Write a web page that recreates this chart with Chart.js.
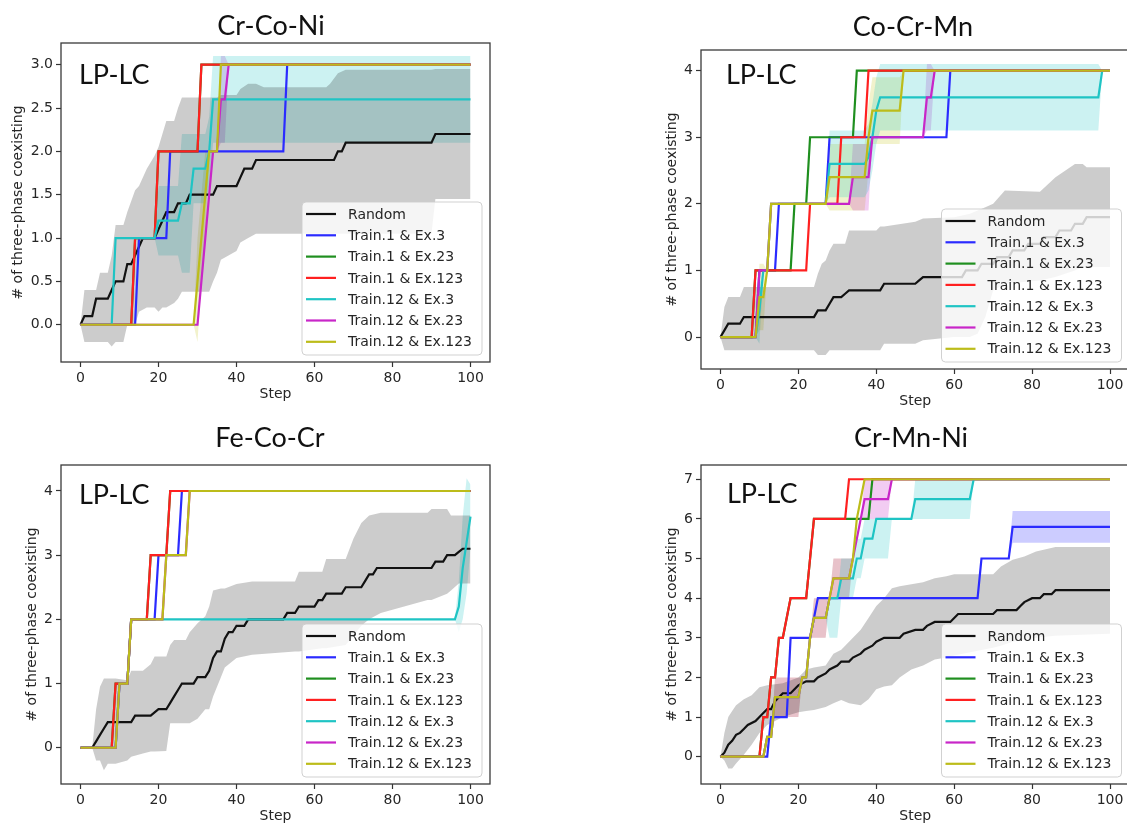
<!DOCTYPE html>
<html>
<head>
<meta charset="utf-8">
<script src="https://cdn.jsdelivr.net/npm/chart.js@4.4.1/dist/chart.umd.min.js"></script>
<style>
html, body { margin: 0; padding: 0; background: #fff; overflow: hidden; width: 1127px; height: 824px; }
canvas { position: absolute; }
</style>
</head>
<body>
<canvas id="p1" width="560" height="420" style="left:0;top:0"></canvas>
<canvas id="p2" width="600" height="420" style="left:560px;top:0"></canvas>
<canvas id="p3" width="560" height="430" style="left:0;top:410px"></canvas>
<canvas id="p4" width="600" height="430" style="left:560px;top:410px"></canvas>
<script>
'use strict';

const SERIES = ['Random', 'Train.1 & Ex.3', 'Train.1 & Ex.23', 'Train.1 & Ex.123',
                'Train.12 & Ex.3', 'Train.12 & Ex.23', 'Train.12 & Ex.123'];
const LINE_COLORS = ['#111111', '#2b2bff', '#1f8f1f', '#ff2020', '#1fc4c4', '#c826c8', '#bcbc1a'];
const BAND_COLORS = ['rgba(0,0,0,0.2)', 'rgba(0,0,255,0.2)', 'rgba(0,128,0,0.2)', 'rgba(255,0,0,0.2)',
                     'rgba(0,191,191,0.2)', 'rgba(191,0,191,0.2)', 'rgba(191,191,0,0.2)'];

const STEP_TICKS = [0, 20, 40, 60, 80, 100];
const TICKS_CRCONI = [0, 0.5, 1, 1.5, 2, 2.5, 3];
const TICKS_COCRMN = [0, 1, 2, 3, 4];
const TICKS_FECOCR = [0, 1, 2, 3, 4];
const TICKS_CRMNNI = [0, 1, 2, 3, 4, 5, 6, 7];

// mean curves: [step, count]
// bands: [step, low, high]

/* Cr-Co-Ni */
const crconi_random = [[0,0],[1,0.1],[3,0.1],[4,0.3],[7,0.3],[8,0.4],[9,0.5],[11,0.5],[12,0.7],[13,0.7],[14,0.8],[15,0.9],[16,1.0],[19,1.0],[20,1.1],[21,1.2],[22,1.3],[24,1.3],[25,1.4],[27,1.4],[28,1.5],[34,1.5],[35,1.6],[40,1.6],[41,1.7],[42,1.8],[44,1.8],[45,1.9],[65,1.9],[66,2.0],[67,2.0],[68,2.1],[90,2.1],[91,2.2],[100,2.2]];
const crconi_random_band = [[0,0,0],[1,-0.2,0.4],[4,-0.2,0.4],[5,-0.2,0.6],[7,-0.2,0.6],[8,-0.25,0.8],[9,-0.2,1.15],[11,-0.2,1.15],[12,0.0,1.3],[14,0.0,1.55],[15,0.15,1.6],[17,0.2,1.8],[19,0.2,1.95],[20,0.15,2.05],[21,0.2,2.2],[22,0.2,2.35],[24,0.25,2.35],[25,0.3,2.5],[26,0.38,2.62],[33,0.38,2.62],[34,0.5,2.62],[35,0.6,2.62],[36,0.75,2.65],[40,0.85,2.65],[41,0.95,2.72],[43,1.0,2.78],[45,1.05,2.78],[47,1.05,2.74],[63,1.05,2.74],[64,1.05,2.78],[66,1.05,2.9],[68,1.05,2.94],[90,1.05,2.94],[91,1.45,2.95],[100,1.45,2.95]];
const crconi_t1x3 = [[0,0],[14,0],[15,1],[22,1],[23,2],[52,2],[53,3],[100,3]];
const crconi_t1x23 = [[0,0],[13,0],[14,1],[19,1],[20,2],[30,2],[31,3],[100,3]];
const crconi_t1x123 = [[0,0],[13,0],[14,1],[19,1],[20,2],[30,2],[31,3],[100,3]];
const crconi_t12x3 = [[0,0],[8,0],[9,1],[19,1],[20,1.2],[25,1.2],[26,1.4],[28,1.4],[29,1.8],[32,1.8],[33,2.0],[34,2.6],[100,2.6]];
const crconi_t12x3_band = [[0,0,0],[8,0,0],[9,1,1],[19,1,1],[20,0.8,1.6],[25,0.8,1.6],[26,0.6,2.2],[28,0.6,2.2],[29,1.4,2.2],[32,1.4,2.2],[33,1.6,2.4],[34,2.1,3.1],[100,2.1,3.1]];
const crconi_t12x23 = [[0,0],[30,0],[31,0.5],[32,1.0],[33,1.5],[34,2.0],[35,2.0],[36,2.6],[37,2.6],[38,3.0],[100,3.0]];
const crconi_t12x23_band = [[34,2,2],[35,2,2],[36,2.1,3.1],[37,2.1,3.1],[38,3,3]];
const crconi_t12x123 = [[0,0],[29,0],[30,0.5],[31,1.0],[32,1.5],[33,2.0],[35,2.0],[36,3.0],[100,3.0]];
const crconi_t12x123_band = [[29,0,0],[30,-0.2,1.0],[31,0.5,1.5],[32,1.0,2.0],[33,2,2]];

/* Co-Cr-Mn */
const cocrmn_random = [[0,0],[1,0.1],[2,0.2],[5,0.2],[6,0.3],[24,0.3],[25,0.4],[27,0.4],[28,0.5],[29,0.6],[31,0.6],[32,0.65],[33,0.7],[41,0.7],[42,0.8],[50,0.8],[51,0.85],[52,0.9],[62,0.9],[63,1.0],[66,1.0],[67,1.1],[70,1.1],[71,1.2],[74,1.2],[75,1.3],[78,1.3],[79,1.4],[82,1.4],[83,1.5],[86,1.5],[87,1.6],[90,1.6],[91,1.7],[93,1.7],[94,1.8],[100,1.8]];
const cocrmn_random_band = [[0,0,0],[1,-0.2,0.45],[2,-0.2,0.6],[5,-0.2,0.6],[6,-0.2,0.75],[24,-0.2,0.75],[25,-0.27,0.95],[26,-0.27,1.1],[27,-0.27,1.15],[28,-0.2,1.3],[29,-0.2,1.4],[32,-0.2,1.4],[33,-0.2,1.6],[40,-0.2,1.6],[41,-0.2,1.66],[42,-0.1,1.66],[50,-0.1,1.73],[52,-0.05,1.78],[60,0,1.8],[64,0,1.85],[66,0.05,1.9],[68,0.3,1.95],[70,0.7,2.0],[73,0.8,2.2],[82,0.85,2.18],[86,0.9,2.4],[91,1.0,2.6],[93,1.05,2.6],[94,1.05,2.55],[100,1.05,2.55]];
const cocrmn_t1x3 = [[0,0],[9,0],[10,1],[14,1],[15,2],[27,2],[28,3],[58,3],[59,4],[100,4]];
const cocrmn_t1x23 = [[0,0],[8,0],[9,1],[18,1],[19,2],[22,2],[23,3],[34,3],[35,4],[100,4]];
const cocrmn_t1x123 = [[0,0],[8,0],[9,1],[22,1],[23,2],[30,2],[31,3],[37,3],[38,4],[100,4]];
const cocrmn_t12x3 = [[0,0],[9,0],[10,0.4],[11,1],[12,1],[13,2],[27,2],[28,2.6],[37,2.6],[38,2.7],[39,3.0],[40,3.4],[41,3.6],[97,3.6],[98,4.0],[100,4.0]];
const cocrmn_t12x3_band = [[9,0,0],[10,-0.1,0.8],[11,1,1],[27,2,2],[28,2.1,3.1],[37,2.1,3.1],[38,2.2,3.2],[39,2.5,3.5],[40,2.9,3.9],[41,3.1,4.1],[97,3.1,4.1],[98,4,4]];
const cocrmn_t12x23 = [[0,0],[9,0],[10,1],[12,1],[13,2],[33,2],[34,2.4],[38,2.4],[39,3.0],[52,3.0],[53,3.6],[54,3.6],[55,4.0],[100,4.0]];
const cocrmn_t12x23_band = [[33,2,2],[34,1.9,2.9],[38,1.9,2.9],[39,3,3],[52,3,3],[53,3.1,4.1],[54,3.1,4.1],[55,4,4]];
const cocrmn_t12x123 = [[0,0],[9,0],[10,0.6],[11,0.6],[12,1.0],[13,2.0],[27,2.0],[28,2.4],[37,2.4],[38,3.0],[39,3.4],[46,3.4],[47,4.0],[100,4.0]];
const cocrmn_t12x123_band = [[9,0,0],[10,0.1,1.1],[11,0.1,1.1],[12,1,1],[27,2,2],[28,1.9,2.9],[37,1.9,2.9],[38,2.5,3.5],[39,2.9,3.9],[46,2.9,3.9],[47,4,4]];

/* Fe-Co-Cr */
const fecocr_random = [[0,0],[3,0],[4,0.1],[5,0.2],[6,0.3],[7,0.4],[13,0.4],[14,0.5],[18,0.5],[19,0.55],[20,0.6],[22,0.6],[23,0.7],[24,0.8],[25,0.9],[26,1.0],[29,1.0],[30,1.1],[32,1.1],[33,1.2],[34,1.4],[35,1.5],[36,1.5],[37,1.7],[38,1.8],[39,1.8],[40,1.9],[42,1.9],[43,2.0],[52,2.0],[53,2.1],[55,2.1],[56,2.2],[60,2.2],[61,2.3],[62,2.3],[63,2.4],[67,2.4],[68,2.5],[72,2.5],[73,2.6],[74,2.7],[75,2.7],[76,2.8],[90,2.8],[91,2.9],[93,2.9],[94,3.0],[96,3.0],[97,3.05],[98,3.1],[100,3.1]];
const fecocr_random_band = [[0,0,0],[3,0,0],[4,-0.2,0.6],[5,-0.2,0.95],[6,-0.35,1.08],[7,-0.25,1.08],[9,-0.25,1.08],[12,-0.2,1.05],[13,-0.14,1.2],[16,-0.09,1.2],[18,-0.06,1.3],[19,-0.06,1.42],[22,-0.05,1.42],[23,0.38,1.6],[24,0.38,1.68],[27,0.38,1.68],[28,0.38,1.8],[30,0.45,1.94],[32,0.6,2.05],[33,0.6,2.2],[34,0.8,2.45],[36,1.1,2.48],[37,1.25,2.48],[40,1.4,2.55],[44,1.45,2.59],[55,1.5,2.59],[56,1.5,2.74],[62,1.55,2.74],[63,1.55,2.94],[68,1.6,2.94],[70,1.75,3.26],[72,1.9,3.5],[74,2.0,3.62],[77,2.1,3.66],[89,2.3,3.66],[90,2.3,3.72],[94,2.4,3.72],[95,2.45,3.62],[97,2.56,3.62],[100,2.56,3.62]];
const fecocr_t1x3 = [[0,0],[9,0],[10,1],[12,1],[13,2],[19,2],[20,3],[25,3],[26,4],[100,4]];
const fecocr_t1x23 = [[0,0],[8,0],[9,1],[12,1],[13,2],[17,2],[18,3],[22,3],[23,4],[100,4]];
const fecocr_t1x123 = [[0,0],[8,0],[9,1],[12,1],[13,2],[17,2],[18,3],[22,3],[23,4],[100,4]];
const fecocr_t12x3 = [[0,0],[9,0],[10,1],[12,1],[13,2],[96,2],[97,2.2],[98,2.8],[99,3.2],[100,3.6]];
const fecocr_t12x3_band = [[96,2,2],[97,1.8,2.6],[98,2.0,3.6],[99,2.4,4.2],[100,3.1,4.1]];
const fecocr_t12x23 = [[0,0],[9,0],[10,1],[12,1],[13,2],[21,2],[22,3],[27,3],[28,4],[100,4]];
const fecocr_t12x123 = [[0,0],[9,0],[10,1],[12,1],[13,2],[21,2],[22,3],[27,3],[28,4],[100,4]];

/* Cr-Mn-Ni */
const crmnni_random = [[0,0],[1,0.1],[2,0.3],[3,0.4],[4,0.55],[5,0.6],[6,0.7],[7,0.8],[9,0.9],[10,1.0],[11,1.1],[12,1.2],[13,1.2],[14,1.4],[15,1.5],[16,1.6],[18,1.6],[19,1.7],[20,1.8],[22,1.9],[24,1.9],[25,2.0],[27,2.1],[28,2.2],[30,2.3],[31,2.4],[33,2.4],[34,2.5],[36,2.6],[37,2.7],[39,2.8],[40,2.9],[42,3.0],[46,3.0],[47,3.1],[50,3.2],[52,3.2],[53,3.3],[55,3.4],[59,3.4],[61,3.6],[70,3.6],[71,3.7],[76,3.7],[77,3.8],[78,3.9],[80,4.0],[82,4.0],[83,4.1],[85,4.1],[86,4.2],[100,4.2]];
const crmnni_random_band = [[0,0,0],[1,-0.1,0.6],[2,-0.3,1.0],[3,-0.3,1.15],[4,-0.17,1.3],[6,0.05,1.45],[8,0.3,1.55],[10,0.6,1.75],[12,0.8,1.8],[16,1.0,1.85],[20,1.12,2.0],[22,1.15,2.2],[24,1.18,2.25],[27,1.25,2.3],[29,1.35,2.6],[31,1.43,2.7],[33,1.35,2.9],[36,1.3,3.2],[38,1.45,3.5],[40,1.7,3.8],[42,1.77,4.0],[44,1.8,4.25],[46,2.0,4.3],[49,2.2,4.35],[52,2.3,4.4],[55,2.45,4.5],[58,2.5,4.55],[60,2.55,4.6],[70,2.75,4.6],[72,2.8,4.8],[75,2.9,4.97],[78,2.95,5.05],[81,3.0,5.18],[86,3.05,5.29],[100,3.1,5.29]];
const crmnni_t1x3 = [[0,0],[12,0],[13,1],[17,1],[18,3],[23,3],[24,3.5],[25,4],[66,4],[67,5],[74,5],[75,5.8],[100,5.8]];
const crmnni_t1x3_band = [[74,5,5],[75,5.4,6.2],[100,5.4,6.2]];
const crmnni_t1x23 = [[0,0],[10,0],[11,1],[12,1],[13,2],[14,2],[15,3],[16,3],[18,4],[22,4],[23,5],[24,6],[38,6],[39,7],[100,7]];
const crmnni_t1x123 = [[0,0],[10,0],[11,1],[12,1],[13,2],[14,2],[15,3],[16,3],[18,4],[22,4],[23,5],[24,6],[32,6],[33,7],[100,7]];
const crmnni_t12x3 = [[0,0],[11,0],[12,0.5],[13,0.5],[14,1.5],[20,1.5],[21,2.0],[22,2.0],[23,3.0],[24,3.5],[27,3.5],[28,4.0],[30,4.0],[31,4.5],[34,4.5],[35,5.0],[36,5.0],[37,5.5],[39,5.5],[40,6.0],[49,6.0],[50,6.5],[64,6.5],[65,7.0],[100,7.0]];
const crmnni_t12x3_band = [[27,3.5,3.5],[28,3.0,4.0],[30,3.0,4.0],[31,4.0,5.0],[34,4.0,5.0],[35,4.5,5.5],[36,4.5,5.5],[37,5.0,6.0],[43,5.0,6.0],[44,6,6],[49,6,6],[50,6.0,7.0],[64,6.0,7.0],[65,7,7]];
const crmnni_t12x23 = [[0,0],[11,0],[12,0.5],[13,0.5],[14,1.5],[20,1.5],[21,2.0],[22,2.0],[23,3.0],[24,3.5],[27,3.5],[28,4.0],[29,4.5],[33,4.5],[34,5.0],[35,5.5],[36,6.0],[37,6.5],[43,6.5],[44,7.0],[100,7.0]];
const crmnni_t12x23_band = [[13,0.5,0.5],[14,1.0,2.0],[20,1.0,2.0],[21,2,2],[23,3,3],[24,3.0,4.0],[27,3.0,4.0],[28,4,4],[29,4.0,5.0],[33,4.0,5.0],[34,5,5],[36,6,6],[37,6.0,7.0],[43,6.0,7.0],[44,7,7]];
const crmnni_t12x123 = [[0,0],[11,0],[12,0.5],[13,0.5],[14,1.5],[20,1.5],[21,2.0],[22,2.0],[23,3.0],[24,3.5],[27,3.5],[28,4.0],[29,4.5],[33,4.5],[34,5.0],[35,6.0],[36,6.5],[37,7.0],[100,7.0]];
const crmnni_t12x123_band = [[13,0.5,0.5],[14,1.0,2.0],[20,1.0,2.0],[21,2,2],[23,3,3],[24,3.0,4.0],[27,3.0,4.0],[28,4,4],[29,4.0,5.0],[33,4.0,5.0],[34,5,5]];

// frame box (l,t,r,b) is in canvas pixels; yW = width kept for the y axis
const panels = [
  { id: 'p1', title: 'Cr-Co-Ni', titleX: 271, titleY: 35, tagX: 79, tagY: 84,
    box: { l: 61, t: 43, r: 490, b: 362 }, yW: 55, yMin: -0.43, yMax: 3.25, yTicks: TICKS_CRCONI, digits: 1,
    lines: [crconi_random, crconi_t1x3, crconi_t1x23, crconi_t1x123, crconi_t12x3, crconi_t12x23, crconi_t12x123],
    bands: [crconi_random_band, null, null, null, crconi_t12x3_band, crconi_t12x23_band, crconi_t12x123_band] },
  { id: 'p2', title: 'Co-Cr-Mn', titleX: 353, titleY: 36, tagX: 166, tagY: 84,
    box: { l: 141, t: 50, r: 569.5, b: 369 }, yW: 41, yMin: -0.48, yMax: 4.31, yTicks: TICKS_COCRMN, digits: 0,
    lines: [cocrmn_random, cocrmn_t1x3, cocrmn_t1x23, cocrmn_t1x123, cocrmn_t12x3, cocrmn_t12x23, cocrmn_t12x123],
    bands: [cocrmn_random_band, null, null, null, cocrmn_t12x3_band, cocrmn_t12x23_band, cocrmn_t12x123_band] },
  { id: 'p3', title: 'Fe-Co-Cr', titleX: 270, titleY: 37, tagX: 79, tagY: 94,
    box: { l: 61, t: 55, r: 490, b: 374 }, yW: 41, yMin: -0.565, yMax: 4.405, yTicks: TICKS_FECOCR, digits: 0,
    lines: [fecocr_random, fecocr_t1x3, fecocr_t1x23, fecocr_t1x123, fecocr_t12x3, fecocr_t12x23, fecocr_t12x123],
    bands: [fecocr_random_band, null, null, null, fecocr_t12x3_band, null, null] },
  { id: 'p4', title: 'Cr-Mn-Ni', titleX: 351, titleY: 37, tagX: 167, tagY: 93,
    box: { l: 141, t: 55, r: 569.5, b: 374 }, yW: 41, yMin: -0.69, yMax: 7.36, yTicks: TICKS_CRMNNI, digits: 0,
    lines: [crmnni_random, crmnni_t1x3, crmnni_t1x23, crmnni_t1x123, crmnni_t12x3, crmnni_t12x23, crmnni_t12x123],
    bands: [crmnni_random_band, crmnni_t1x3_band, null, null, crmnni_t12x3_band, crmnni_t12x23_band, crmnni_t12x123_band] },
];

const X_AXIS_H = 42;
const TEXT = '#262626';
const AXIS_FONT = { family: 'DejaVu Sans', size: 14 };

// frame, panel title, "LP-LC" tag and the boxed legend inside the plot
const panelDecor = {
  id: 'panelDecor',
  afterDatasetsDraw(chart) {
    const { ctx, chartArea: a } = chart;
    ctx.save();
    ctx.strokeStyle = '#3a3a3a';
    ctx.lineWidth = 1.3;
    ctx.strokeRect(a.left, a.top, a.right - a.left, a.bottom - a.top);
    ctx.restore();
  },
  afterDraw(chart, args, opts) {
    const { ctx, chartArea: a } = chart;
    ctx.save();
    ctx.fillStyle = '#111';
    ctx.textAlign = 'center';
    ctx.textBaseline = 'alphabetic';
    ctx.font = '27px Lato';
    ctx.fillText(opts.title, opts.titleX, opts.titleY);
    ctx.textAlign = 'left';
    ctx.fillText('LP-LC', opts.tagX, opts.tagY);

    const w = 180, h = 153;
    const lx = a.right - 8 - w, ly = a.bottom - 7 - h;
    ctx.beginPath();
    ctx.roundRect(lx, ly, w, h, 4);
    ctx.fillStyle = 'rgba(255,255,255,0.8)';
    ctx.fill();
    ctx.strokeStyle = 'rgba(204,204,204,0.9)';
    ctx.lineWidth = 1;
    ctx.stroke();

    ctx.font = '14px "DejaVu Sans"';
    ctx.textBaseline = 'middle';
    SERIES.forEach((name, i) => {
      const y = ly + 12 + i * 21.3;
      ctx.strokeStyle = LINE_COLORS[i];
      ctx.lineWidth = 2.2;
      ctx.beginPath();
      ctx.moveTo(lx + 4, y);
      ctx.lineTo(lx + 34, y);
      ctx.stroke();
      ctx.fillStyle = TEXT;
      ctx.fillText(name, lx + 46, y + 1);
    });
    ctx.restore();
  }
};

function toXY(pts, k) {
  return pts.map(p => ({ x: p[0], y: p[k] }));
}

function makeChart(p) {
  const cv = document.getElementById(p.id);
  const datasets = [];
  p.bands.forEach((band, i) => {
    if (!band) return;
    datasets.push({ data: toXY(band, 1), borderColor: 'transparent', borderWidth: 0, pointRadius: 0, fill: false, order: 10 });
    datasets.push({ data: toXY(band, 2), borderColor: 'transparent', borderWidth: 0, pointRadius: 0,
                    fill: '-1', backgroundColor: BAND_COLORS[i], order: 10 });
  });
  p.lines.forEach((pts, i) => {
    datasets.push({ label: SERIES[i], data: toXY(pts, 1), borderColor: LINE_COLORS[i], borderWidth: 2.2,
                    pointRadius: 0, fill: false, tension: 0, order: 6 - i });
  });

  const b = p.box;
  new Chart(cv, {
    type: 'line',
    data: { datasets },
    options: {
      responsive: false,
      animation: false,
      events: [],
      layout: { padding: { left: b.l - p.yW, top: b.t, right: cv.width - b.r, bottom: cv.height - b.b - X_AXIS_H } },
      plugins: {
        legend: { display: false },
        tooltip: { enabled: false },
        filler: { drawTime: 'beforeDatasetsDraw' },
        panelDecor: { title: p.title, titleX: p.titleX, titleY: p.titleY, tagX: p.tagX, tagY: p.tagY }
      },
      scales: {
        x: {
          type: 'linear', min: -5, max: 105,
          afterBuildTicks: s => { s.ticks = STEP_TICKS.map(v => ({ value: v })); },
          afterFit: s => { s.height = X_AXIS_H; },
          border: { display: false },
          grid: { drawOnChartArea: false, tickLength: 5, tickWidth: 1.2, tickColor: '#333' },
          ticks: { font: AXIS_FONT, color: TEXT, maxRotation: 0, autoSkip: false, padding: 3 },
          title: { display: true, text: 'Step', font: AXIS_FONT, color: TEXT, padding: { top: 0, bottom: 1 } }
        },
        y: {
          type: 'linear', min: p.yMin, max: p.yMax,
          afterBuildTicks: s => { s.ticks = p.yTicks.map(v => ({ value: v })); },
          afterFit: s => { s.width = p.yW; },
          border: { display: false },
          grid: { drawOnChartArea: false, tickLength: 5, tickWidth: 1.2, tickColor: '#333' },
          ticks: { font: AXIS_FONT, color: TEXT, padding: 3, callback: v => v.toFixed(p.digits) },
          title: { display: true, text: '# of three-phase coexisting', font: AXIS_FONT, color: TEXT, padding: { top: 3.6, bottom: 0 } }
        }
      }
    },
    plugins: [panelDecor]
  });
}

panels.forEach(makeChart);
</script>
</body>
</html>
